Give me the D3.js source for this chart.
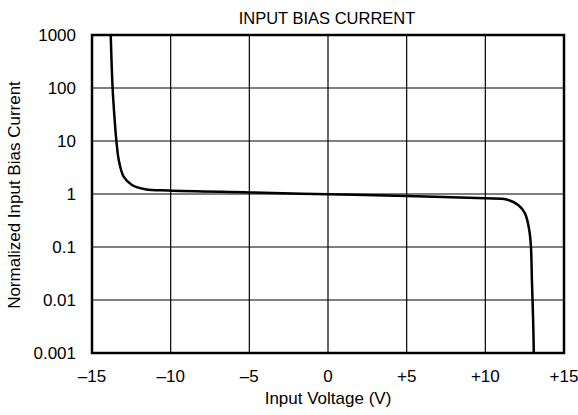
<!DOCTYPE html>
<html>
<head>
<meta charset="utf-8">
<script src="https://cdn.jsdelivr.net/npm/d3@7"></script>
<style>
  body { margin: 0; background: #fff; }
  text { font-family: "Liberation Sans", Arial, sans-serif; fill: #000; }
</style>
</head>
<body>
<div id="chart"></div>
<script>
(function(){
    var width = 578, height = 415;
    var margin = {top: 35, bottom: 62, left: 92, right: 14};

    // curve (volts, normalized current)
    var voltage = [-13.81, -13.69, -13.56, -13.45, -13.3, -12.99, -12.46, -11.61, -10.13,
                   -5, 0, 5, 10, 11.35, 12.09, 12.52, 12.79, 12.9, 12.96, 13.0, 13.05, 13.08];
    var current = [1000, 100, 25, 10, 4.4, 2.12, 1.48, 1.23, 1.16,
                   1.07, 0.99, 0.92, 0.83, 0.79, 0.62, 0.43, 0.21, 0.1, 0.024, 0.01, 0.003, 0.001];

    var xTicks = [-15, -10, -5, 0, 5, 10, 15];
    var xTickLabels = ["\u201315", "\u201310", "\u20135", "0", "+5", "+10", "+15"];
    var yTicks = [0.001, 0.01, 0.1, 1, 10, 100, 1000];
    var yTickLabels = ["0.001", "0.01", "0.1", "1", "10", "100", "1000"];

    var w = width - margin.left - margin.right;
    var h = height - margin.top - margin.bottom;

    var x = d3.scaleLinear().domain([-15, 15]).range([0, w]);
    var y = d3.scaleLog().domain([0.001, 1000]).range([h, 0]);

    var svg = d3.select("#chart")
        .append("svg")
        .attr("width", width)
        .attr("height", height);

    svg.append("text")
        .attr("x", 327)
        .attr("y", 24)
        .attr("text-anchor", "middle")
        .style("font-size", "16.5px")
        .text("INPUT BIAS CURRENT");

    var g = svg.append("g")
        .attr("transform", "translate(" + margin.left + "," + margin.top + ")");

    g.append("clipPath").attr("id", "clip")
        .append("rect").attr("width", w).attr("height", h);

    // grid
    g.selectAll(".vgrid")
        .data(xTicks)
        .enter()
        .append("line")
        .attr("x1", d => x(d)).attr("x2", d => x(d))
        .attr("y1", 0).attr("y2", h)
        .attr("stroke", "#000").attr("stroke-width", 1.2);

    g.selectAll(".hgrid")
        .data(yTicks)
        .enter()
        .append("line")
        .attr("y1", d => y(d)).attr("y2", d => y(d))
        .attr("x1", 0).attr("x2", w)
        .attr("stroke", "#000").attr("stroke-width", 1.2);

    // curve
    var pts = voltage.map((v, i) => [v, current[i]]);
    var line = d3.line()
        .x(d => x(d[0]))
        .y(d => y(d[1]))
        .curve(d3.curveCatmullRom.alpha(0.5));

    g.append("path")
        .datum(pts)
        .attr("clip-path", "url(#clip)")
        .attr("d", line)
        .attr("fill", "none")
        .attr("stroke", "#000")
        .attr("stroke-width", 2.5);

    // frame
    g.append("rect")
        .attr("width", w).attr("height", h)
        .attr("fill", "none")
        .attr("stroke", "#000")
        .attr("stroke-width", 2.5);

    // tick labels
    g.selectAll(".xlab")
        .data(xTicks)
        .enter()
        .append("text")
        .attr("x", d => x(d))
        .attr("y", h + 29)
        .attr("text-anchor", "middle")
        .style("font-size", "17px")
        .text((d, i) => xTickLabels[i]);

    g.selectAll(".ylab")
        .data(yTicks)
        .enter()
        .append("text")
        .attr("x", -16)
        .attr("y", d => y(d) + 6)
        .attr("text-anchor", "end")
        .style("font-size", "17px")
        .text((d, i) => yTickLabels[i]);

    svg.append("text")
        .attr("x", margin.left + x(0))
        .attr("y", 404)
        .attr("text-anchor", "middle")
        .style("font-size", "17px")
        .text("Input Voltage (V)");

    svg.append("text")
        .attr("transform", "translate(20," + (margin.top + h / 2 + 1) + ") rotate(-90)")
        .attr("text-anchor", "middle")
        .style("font-size", "17px")
        .text("Normalized Input Bias Current");
})();
</script>
</body>
</html>
